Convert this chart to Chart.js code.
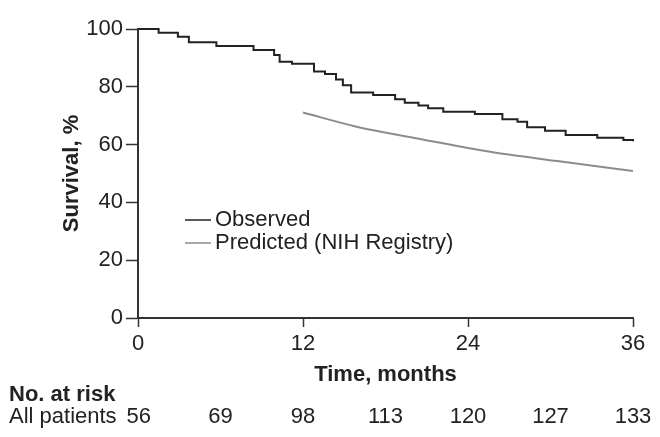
<!DOCTYPE html>
<html lang="en">
<head>
<meta charset="UTF-8">
<title>Survival</title>
<script src="https://cdn.jsdelivr.net/npm/chart.js"></script>
<style>
  html, body { margin: 0; padding: 0; background: #fff; }
</style>
</head>
<body>
<canvas id="chart" width="660" height="437"></canvas>
<script>
// Kaplan-Meier steps (month of drop, survival % after drop)
const obsMonths   = [0, 1.5, 2.9, 3.7, 5.7, 8.4, 9.9, 10.3, 11.2, 12.8, 13.6, 14.4, 14.9, 15.5, 17.1, 18.7, 19.4, 20.4, 21.1, 22.2, 24.5, 26.5, 27.6, 28.3, 29.6, 31.1, 33.4, 35.3, 36];
const obsSurvival = [100, 98.7, 97.3, 95.4, 94.1, 92.7, 91.0, 88.7, 88.0, 85.3, 84.4, 82.5, 80.5, 78.0, 77.2, 75.7, 74.5, 73.5, 72.6, 71.4, 70.6, 68.8, 67.9, 66.0, 64.8, 63.3, 62.4, 61.6, 61.2];
const predMonths   = [12, 15.9, 20.7, 25.6, 30.5, 36];
const predSurvival = [71.1, 66.2, 61.8, 57.5, 54.3, 50.9];

const riskMonths = [0, 6, 12, 18, 24, 30, 36];
const riskCounts = [56, 69, 98, 113, 120, 127, 133];

const seriesNames = ['Observed', 'Predicted (NIH Registry)'];
const FONT = "'Liberation Sans', Arial, sans-serif";

Chart.defaults.font.family = FONT;
Chart.defaults.font.size = 22;
Chart.defaults.color = '#222';

const toPoints = (xs, ys) => xs.map((x, i) => ({x: x, y: ys[i]}));

const extras = {
    id: 'extras',
    afterDraw(chart) {
        const ctx = chart.ctx;
        const xs = chart.scales.x;
        const area = chart.chartArea;
        ctx.save();
        ctx.fillStyle = '#222';
        ctx.textBaseline = 'middle';

        // legend
        const legendColors = ['#222', '#8c8c8c'];
        const legendY = [220, 243];
        ctx.font = '22px ' + FONT;
        legendY.forEach((y, i) => {
            ctx.strokeStyle = legendColors[i];
            ctx.lineWidth = 1.5;
            ctx.beginPath();
            ctx.moveTo(185, y);
            ctx.lineTo(211, y);
            ctx.stroke();
            ctx.textAlign = 'left';
            ctx.fillText(seriesNames[i], 215, y);
        });

        // x axis title
        ctx.font = 'bold 22px ' + FONT;
        ctx.textAlign = 'center';
        ctx.fillText('Time, months', (area.left + area.right) / 2, 375);

        // risk table
        ctx.textAlign = 'left';
        ctx.fillText('No. at risk', 9, 395);
        ctx.font = '22px ' + FONT;
        ctx.fillText('All patients', 9, 417);
        const minLeft = 9 + ctx.measureText('All patients').width + 10;
        ctx.textAlign = 'center';
        riskCounts.forEach((n, i) => {
            const txt = String(n);
            const w = ctx.measureText(txt).width;
            const px = Math.max(xs.getPixelForValue(riskMonths[i]), minLeft + w / 2);
            ctx.fillText(txt, px, 417);
        });
        ctx.restore();
    }
};

new Chart(document.getElementById('chart'), {
    type: 'line',
    data: {
        datasets: [{
            label: seriesNames[0],
            data: toPoints(obsMonths, obsSurvival),
            borderColor: '#222',
            borderWidth: 2,
            pointRadius: 0,
            stepped: true,
            fill: false,
            clip: 4
        }, {
            label: seriesNames[1],
            data: toPoints(predMonths, predSurvival),
            borderColor: '#8c8c8c',
            borderWidth: 2,
            pointRadius: 0,
            cubicInterpolationMode: 'monotone',
            fill: false,
            clip: 4
        }]
    },
    options: {
        responsive: false,
        animation: false,
        layout: { padding: { left: 55, right: 27, top: 29, bottom: 0 } },
        plugins: {
            legend: { display: false },
            tooltip: { enabled: false }
        },
        scales: {
            x: {
                type: 'linear',
                min: 0,
                max: 36,
                afterFit(scale) { scale.height = 119; },
                border: { display: true, color: '#333', width: 2 },
                grid: { display: true, drawOnChartArea: false, tickLength: 9, tickColor: '#333', tickWidth: 1.5 },
                ticks: { stepSize: 12, padding: 4, maxRotation: 0, autoSkip: false, color: '#222' }
            },
            y: {
                min: 0,
                max: 100,
                afterFit(scale) { scale.width = 83; },
                border: { display: true, color: '#333', width: 2 },
                grid: { display: true, drawOnChartArea: false, tickLength: 12, tickColor: '#333', tickWidth: 1.5 },
                ticks: { stepSize: 20, padding: 3, color: '#222' },
                title: {
                    display: true,
                    text: 'Survival, %',
                    font: { weight: 'bold', size: 22 },
                    padding: { top: 4, bottom: 0 },
                    color: '#222'
                }
            }
        }
    },
    plugins: [extras]
});
</script>
</body>
</html>
